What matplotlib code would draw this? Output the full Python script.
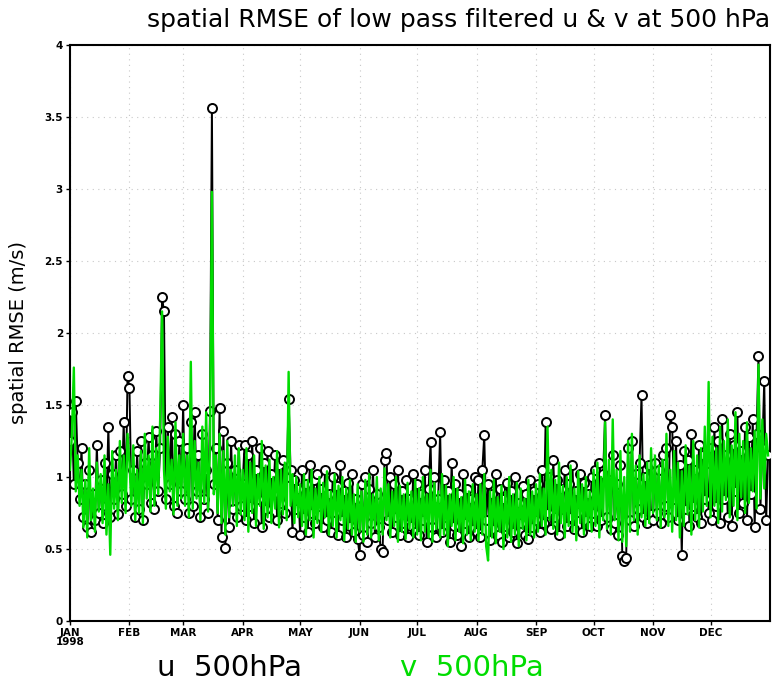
import numpy as np
import matplotlib
matplotlib.use("Agg")
import matplotlib.pyplot as plt

# daily spatial RMSE (m/s), 1998
u_jan = [1.25, 1.45, 0.95, 1.53, 1.10, 0.85, 1.20, 0.72, 0.95, 0.65, 1.05, 0.62, 0.88, 0.70, 1.22, 0.75,
         0.98, 0.68, 1.10, 0.80, 1.35, 0.72, 1.02, 0.85, 1.15, 0.74, 1.18, 0.88, 1.38, 0.80, 1.70]
u_feb = [1.62, 0.85, 1.05, 0.72, 1.18, 0.78, 1.25, 0.70, 1.10, 0.95, 1.28, 0.82, 1.15, 0.78, 1.32, 0.90,
         1.20, 2.25, 2.15, 0.85, 1.35, 0.95, 1.42, 0.80, 1.30, 0.75, 1.25, 0.90]
u_mar = [1.50, 0.85, 1.20, 0.75, 1.38, 0.80, 1.45, 0.90, 1.15, 0.72, 1.30, 0.85, 1.05, 0.75, 1.46, 3.56,
         0.95, 1.20, 0.70, 1.48, 0.58, 1.32, 0.51, 1.10, 0.65, 1.25, 0.78, 1.05, 0.72, 1.22, 0.80]
u_apr = [0.95, 1.22, 0.70, 1.15, 0.80, 1.25, 0.68, 1.05, 0.85, 1.20, 0.65, 1.10, 0.78, 1.18, 0.72, 1.02,
         0.88, 1.15, 0.70, 1.08, 0.82, 1.12, 0.75, 1.00, 1.54, 1.05, 0.62, 0.98, 0.78, 0.92]
u_may = [0.60, 1.05, 0.72, 0.95, 0.62, 1.08, 0.75, 0.98, 0.68, 1.02, 0.80, 0.92, 0.65, 1.05, 0.70, 0.88,
         0.62, 1.00, 0.76, 0.94, 0.60, 1.08, 0.70, 0.90, 0.58, 0.96, 0.66, 1.02, 0.62, 0.85, 0.57]
u_jun = [0.46, 0.95, 0.60, 1.00, 0.55, 0.92, 0.68, 1.05, 0.58, 0.88, 0.65, 0.50, 0.48, 1.12, 1.17, 0.70,
         1.00, 0.62, 0.95, 0.72, 1.05, 0.60, 0.90, 0.68, 0.98, 0.58, 0.85, 0.66, 1.02, 0.62]
u_jul = [0.95, 0.60, 0.88, 0.70, 1.05, 0.55, 0.92, 1.24, 0.65, 1.00, 0.58, 0.85, 1.31, 0.62, 0.98, 0.72,
         0.90, 0.55, 1.10, 0.66, 0.95, 0.60, 0.88, 0.52, 1.02, 0.68, 0.92, 0.58, 0.85, 0.64, 1.00]
u_aug = [0.62, 0.98, 0.58, 1.05, 1.29, 0.70, 0.95, 0.56, 0.88, 0.64, 1.02, 0.60, 0.92, 0.55, 0.85, 0.66,
         0.96, 0.58, 0.90, 0.62, 1.00, 0.54, 0.82, 0.68, 0.94, 0.60, 0.88, 0.57, 0.98, 0.65, 0.90]
u_sep = [0.70, 0.95, 0.62, 1.05, 0.68, 1.38, 0.75, 1.00, 0.64, 1.12, 0.72, 0.98, 0.60, 0.92, 0.78, 1.05,
         0.66, 0.95, 0.72, 1.08, 0.64, 0.90, 0.76, 1.02, 0.62, 0.96, 0.70, 0.88, 0.66, 1.00]
u_oct = [0.75, 1.05, 0.66, 1.10, 0.70, 1.02, 1.43, 0.72, 0.98, 0.64, 1.15, 0.68, 0.95, 0.60, 1.08, 0.45,
         0.42, 0.44, 1.20, 0.70, 1.25, 0.66, 1.02, 0.78, 1.10, 1.57, 0.72, 1.00, 0.68, 1.08, 0.74]
u_nov = [0.70, 1.10, 0.75, 1.05, 0.68, 1.15, 0.80, 1.20, 0.72, 1.43, 1.35, 0.85, 1.25, 0.70, 1.08, 0.46,
         1.18, 0.78, 1.12, 0.66, 1.30, 0.80, 1.05, 0.72, 1.22, 0.68, 1.15, 0.85, 1.10, 0.75]
u_dec = [1.20, 0.70, 1.35, 0.80, 1.25, 0.68, 1.40, 0.85, 1.15, 0.72, 1.30, 0.66, 1.22, 0.90, 1.45, 0.75,
         1.18, 0.82, 1.35, 0.70, 1.28, 0.88, 1.40, 0.65, 1.30, 1.84, 0.78, 1.20, 1.67, 0.70, 1.15]

v_jan = [1.05, 1.30, 1.76, 0.90, 1.15, 0.80, 1.05, 0.65, 0.98, 0.58, 1.20, 0.70, 0.92, 0.62, 1.10, 0.76,
         1.02, 0.68, 1.15, 0.60, 0.95, 0.46, 1.18, 0.78, 1.05, 0.70, 1.25, 0.82, 1.15, 0.75, 1.30]
v_feb = [1.10, 0.80, 1.22, 0.70, 1.05, 0.75, 1.18, 0.68, 1.30, 0.85, 1.15, 0.76, 1.35, 0.80, 1.20, 0.88,
         1.40, 2.15, 1.05, 0.78, 1.28, 0.90, 1.12, 0.74, 1.38, 0.80, 1.15, 0.85]
v_mar = [1.30, 0.80, 1.15, 0.72, 1.80, 0.78, 1.25, 0.85, 1.10, 0.70, 1.35, 0.82, 1.45, 0.76, 1.20, 2.98,
         0.88, 1.15, 0.75, 1.30, 0.68, 1.18, 0.60, 1.25, 0.72, 1.05, 0.80, 1.15, 0.66, 1.20, 0.74]
v_apr = [1.05, 0.70, 1.20, 0.62, 1.10, 0.75, 1.15, 0.66, 1.02, 0.80, 1.25, 0.64, 1.08, 0.72, 1.12, 0.68,
         1.00, 0.78, 1.18, 0.65, 1.05, 0.74, 1.10, 0.70, 1.73, 0.80, 1.02, 0.68, 1.00, 0.72]
v_may = [0.95, 0.66, 1.02, 0.60, 0.98, 0.70, 1.05, 0.58, 0.92, 0.68, 1.00, 0.62, 0.96, 0.72, 1.04, 0.60,
         0.90, 0.66, 1.02, 0.58, 0.94, 0.70, 1.00, 0.56, 0.92, 0.64, 0.98, 0.60, 0.88, 0.55, 0.95]
v_jun = [0.62, 0.90, 0.55, 0.98, 0.60, 1.02, 0.58, 0.88, 0.64, 1.00, 0.56, 0.92, 0.60, 1.06, 0.70, 0.95,
         0.58, 0.90, 0.66, 1.00, 0.55, 0.94, 0.62, 0.88, 0.57, 0.96, 0.64, 0.90, 0.58, 0.98]
v_jul = [0.60, 0.92, 0.56, 1.00, 0.62, 0.88, 0.58, 1.05, 0.55, 0.96, 0.64, 0.90, 0.58, 1.02, 0.60, 0.94,
         0.52, 0.88, 0.66, 1.00, 0.56, 0.92, 0.62, 0.86, 0.54, 0.98, 0.60, 0.90, 0.56, 0.95, 0.62]
v_aug = [0.88, 0.56, 0.95, 0.60, 1.02, 0.52, 0.42, 0.90, 0.58, 0.98, 0.54, 0.86, 0.62, 0.94, 0.50, 0.90,
         0.58, 1.00, 0.55, 0.88, 0.60, 0.96, 0.52, 0.92, 0.64, 0.85, 0.56, 0.98, 0.60, 0.90, 0.58]
v_sep = [0.95, 0.62, 1.02, 0.66, 0.92, 0.60, 1.35, 0.70, 1.05, 0.64, 0.98, 0.60, 1.10, 0.68, 0.94, 0.58,
         1.00, 0.66, 1.08, 0.62, 0.92, 0.56, 1.04, 0.68, 0.95, 0.60, 1.00, 0.64, 0.90, 0.62]
v_oct = [1.05, 0.66, 1.10, 0.58, 1.00, 0.70, 1.38, 0.64, 1.12, 0.60, 1.40, 0.70, 1.05, 0.56, 1.18, 0.55,
         1.00, 0.52, 1.25, 0.62, 1.30, 0.70, 1.08, 0.60, 1.15, 0.72, 1.02, 0.66, 1.10, 0.68, 1.20]
v_nov = [0.75, 1.15, 0.70, 1.08, 0.65, 1.12, 0.72, 1.30, 0.66, 1.05, 0.62, 1.18, 0.70, 1.10, 0.58, 1.04,
         0.66, 1.22, 0.74, 1.08, 0.60, 1.25, 0.70, 1.15, 0.65, 1.20, 0.76, 1.35, 0.80, 1.66]
v_dec = [0.72, 1.28, 0.80, 1.20, 0.68, 1.35, 0.76, 1.25, 0.84, 1.40, 0.72, 1.22, 0.80, 1.45, 0.70, 1.30,
         0.86, 1.25, 0.75, 1.38, 0.82, 1.20, 0.90, 1.32, 0.78, 1.78, 0.85, 1.40, 0.92, 1.30, 1.15]

month_labels = ["JAN\n1998", "FEB", "MAR", "APR", "MAY", "JUN",
                "JUL", "AUG", "SEP", "OCT", "NOV", "DEC"]
month_days = [31, 28, 31, 30, 31, 30, 31, 31, 30, 31, 30, 31]
y_ticks = [0, 0.5, 1, 1.5, 2, 2.5, 3, 3.5, 4]
y_ticklabels = ["0", "0.5", "1", "1.5", "2", "2.5", "3", "3.5", "4"]

u = np.concatenate([u_jan, u_feb, u_mar, u_apr, u_may, u_jun,
                    u_jul, u_aug, u_sep, u_oct, u_nov, u_dec])
v = np.concatenate([v_jan, v_feb, v_mar, v_apr, v_may, v_jun,
                    v_jul, v_aug, v_sep, v_oct, v_nov, v_dec])
days_u = np.arange(len(u))
days_v = np.arange(len(v))
month_starts = np.concatenate([[0], np.cumsum(month_days)[:-1]])

GREEN = "#00dc00"

fig = plt.figure(figsize=(7.76, 6.87), dpi=100)
ax = fig.add_axes([70 / 776, 66 / 687, 700 / 776, 576 / 687])

# u: black line with open circles, v: green line on top
ax.plot(days_u, u, color="black", linewidth=1.4, marker="o", markersize=6.5,
        markerfacecolor="white", markeredgecolor="black", markeredgewidth=1.4, zorder=3)
ax.plot(days_v, v, color=GREEN, linewidth=1.7, zorder=4)

ax.set_xlim(0, sum(month_days))
ax.set_ylim(0, 4)
ax.set_xticks(month_starts)
ax.set_xticklabels(month_labels, fontsize=7.5, fontweight="bold", linespacing=0.9)
ax.set_yticks(y_ticks)
ax.set_yticklabels(y_ticklabels, fontsize=7.5, fontweight="bold")
ax.tick_params(direction="out", length=3, width=1, pad=2)
ax.grid(True, color="#c8c8c8", linestyle=(0, (1, 4)), linewidth=0.8)
ax.set_axisbelow(True)
for sp in ax.spines.values():
    sp.set_linewidth(1.5)

ax.set_ylabel("spatial RMSE (m/s)", fontsize=14, labelpad=12)

fig.text(770 / 776, 1 - 20 / 687, "spatial RMSE of low pass filtered u & v at 500 hPa",
         ha="right", va="center", fontsize=18)
fig.text(157 / 776, 1 - 668 / 687, "u  500hPa", ha="left", va="center", fontsize=21, color="black")
fig.text(400 / 776, 1 - 668 / 687, "v  500hPa", ha="left", va="center", fontsize=21, color=GREEN)

fig.savefig("out.png", dpi=100)
